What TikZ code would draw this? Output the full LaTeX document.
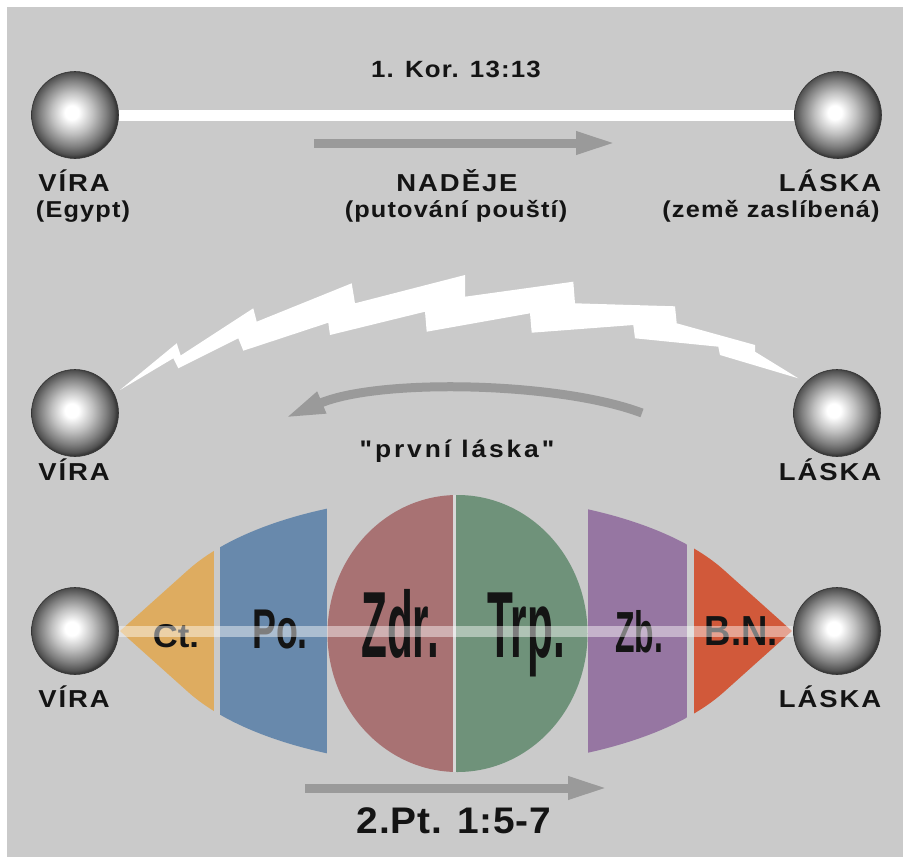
\documentclass[tikz,border=0pt]{standalone}
\usepackage{fontspec}
\setmainfont{Liberation Sans}
\newfontfamily\lsA[LetterSpace=8,FakeStretch=1.12]{Liberation Sans}
\newfontfamily\lsB[LetterSpace=5,FakeStretch=1.1]{Liberation Sans}
\newfontfamily\lsC[LetterSpace=12,FakeStretch=1.1]{Liberation Sans}
\newfontfamily\lsD[LetterSpace=2,FakeStretch=1.05]{Liberation Sans}
\newfontfamily\lsN{Liberation Sans}
\usetikzlibrary{arrows.meta}
\definecolor{bg}{RGB}{202,202,202}
\definecolor{ink}{RGB}{20,20,20}
\definecolor{arrowgray}{RGB}{154,154,154}
\definecolor{ctc}{RGB}{222,172,96}
\definecolor{poc}{RGB}{104,137,172}
\definecolor{zdrc}{RGB}{168,114,115}
\definecolor{trpc}{RGB}{111,146,122}
\definecolor{zbc}{RGB}{150,118,162}
\definecolor{bnc}{RGB}{209,89,58}
\definecolor{divc}{RGB}{216,216,216}
\pgfdeclareradialshading{sph}{\pgfpoint{-2bp}{1.5bp}}{color(0bp)=(white); color(4bp)=(white); color(12bp)=(black!25); color(19bp)=(black!50); color(23.5bp)=(black!68); color(25bp)=(black!78); color(50bp)=(black!78)}
\tikzset{
  sphere/.style={circle, minimum size=87pt, inner sep=0pt, shading=sph, draw=black!80, line width=0.6pt},
  caplbl/.style={anchor=base, inner sep=0pt, text=ink, font=\lsA\bfseries\fontsize{24.5}{29}\selectfont},
  parlbl/.style={anchor=base, inner sep=0pt, text=ink, font=\lsB\bfseries\fontsize{23}{28}\selectfont},
  lenslbl/.style={anchor=base, inner sep=0pt, text=ink},
  grayarrow/.style={draw=arrowgray, line width=9pt, -{Triangle[length=40pt,width=21pt]}},
}
\begin{document}
\begin{tikzpicture}[x=1pt,y=1pt]
\useasboundingbox (0,0) rectangle (903,-857);
\fill[white] (0,0) rectangle (903,-857);
\fill[bg] (7,-7) rectangle (903,-857);

% ---------- top row ----------
\node[sphere] (v1) at (75,-115) {};
\node[sphere] (l1) at (838,-115) {};
\draw[white, line width=11pt] (v1.east) -- (l1.west);
\node[parlbl, font=\lsB\bfseries\fontsize{23.5}{28}\selectfont] (kor) at (456,-77) {1. Kor. 13:13};
\coordinate (a1s) at (314,-143);
\coordinate (a1e) at (616,-143);
\draw[grayarrow] (a1s) -- (a1e);
\node[caplbl] (vira1) at (74,-191) {VÍRA};
\node[caplbl] (nadeje) at (457,-191) {NADĚJE};
\node[caplbl] (laska1) at (830,-191) {LÁSKA};
\node[parlbl] (egypt) at (83,-217) {(Egypt)};
\node[parlbl] (pout) at (456,-217) {(putování pouští)};
\node[parlbl] (zeme) at (771,-217) {(země zaslíbená)};

% ---------- middle row ----------
\node[sphere] (v2) at (75,-413) {};
\node[sphere] (l2) at (837,-413) {};
\fill[white] (120,-390) -- (176.7,-343.3) -- (180.7,-355.5) -- (253.3,-308.3) -- (256.7,-321.7)
  -- (351.7,-283.3) -- (355,-303.3) -- (465,-275) -- (465,-296.7) -- (573.3,-281.7) -- (575,-303.3)
  -- (675,-306.3) -- (676.7,-323.3) -- (755,-345) -- (755,-351.7) -- (798.3,-378.3)
  -- (720,-355) -- (718.3,-346.7) -- (635,-338.3) -- (633.3,-325) -- (531.7,-332.7) -- (530,-313.3)
  -- (426.7,-331.7) -- (425,-311.7) -- (330,-335) -- (328.3,-322.7) -- (243.3,-350.7) -- (238.3,-338.3)
  -- (178.3,-368.3) -- (173.3,-358.3) -- cycle;
\coordinate (a2s) at (642,-413);
\coordinate (a2e) at (285,-418);
\draw[grayarrow] (a2s) .. controls (560,-382) and (380,-378) .. (a2e);
\node[anchor=base, inner sep=0pt, text=ink, font=\lsC\bfseries\fontsize{24}{28}\selectfont] (prvni) at (457,-457) {"první láska"};
\node[caplbl] (vira2) at (74,-480) {VÍRA};
\node[caplbl] (laska2) at (830,-480) {LÁSKA};

% ---------- bottom row ----------
\begin{scope}
\clip (120,-631) -- (188.1,-570) arc[start angle=153.25, end angle=26.75, x radius=300, y radius=135.5]
  -- (792,-631) -- (723.9,-692) arc[start angle=-26.75, end angle=-153.25, x radius=300, y radius=135.5] -- cycle;
\fill[ctc] (110,-480) rectangle (213.5,-780);
\fill[poc] (220,-480) rectangle (326.7,-780);
\fill[zbc] (588.3,-480) rectangle (687.3,-780);
\fill[bnc] (694.3,-480) rectangle (800,-780);
\end{scope}
\begin{scope}
\clip (457.5,-633.5) ellipse[x radius=130, y radius=138.5];
\fill[zdrc] (320,-490) rectangle (454.5,-780);
\fill[trpc] (454.5,-490) rectangle (600,-780);
\draw[divc, line width=3pt] (454.5,-490) -- (454.5,-780);
\end{scope}
\node[sphere] (v3) at (75,-631) {};
\node[sphere] (l3) at (837,-631) {};
\node[lenslbl, font=\lsN\bfseries\fontsize{33}{38}\selectfont] (ct) at (176,-647) {\scalebox{1.05}[1]{Ct.}};
\node[lenslbl, font=\lsN\bfseries\fontsize{56}{60}\selectfont] (po) at (280,-648) {\scalebox{0.64}[1]{Po.}};
\node[lenslbl, font=\lsN\bfseries\fontsize{94}{100}\selectfont] (zdr) at (400,-657) {\scalebox{0.45}[1]{Zdr.}};
\node[lenslbl, font=\lsN\bfseries\fontsize{94}{100}\selectfont] (trp) at (526,-657) {\scalebox{0.45}[1]{Trp.}};
\node[lenslbl, font=\lsN\bfseries\fontsize{58}{62}\selectfont] (zb) at (639,-652) {\scalebox{0.55}[1]{Zb.}};
\node[lenslbl, font=\lsN\bfseries\fontsize{42}{46}\selectfont] (bn) at (741.5,-645) {\scalebox{0.87}[1]{B.N.}};
\draw[white, opacity=0.45, line width=11pt] (v3.east) -- (l3.west);
\node[caplbl] (vira3) at (74,-707) {VÍRA};
\node[caplbl] (laska3) at (830,-707) {LÁSKA};
\coordinate (a3s) at (305,-788);
\coordinate (a3e) at (608,-788);
\draw[grayarrow] (a3s) -- (a3e);
\node[anchor=base, inner sep=0pt, text=ink, font=\lsD\bfseries\fontsize{37}{42}\selectfont] (pt) at (454,-833) {2.Pt. 1:5-7};
\end{tikzpicture}
\end{document}
